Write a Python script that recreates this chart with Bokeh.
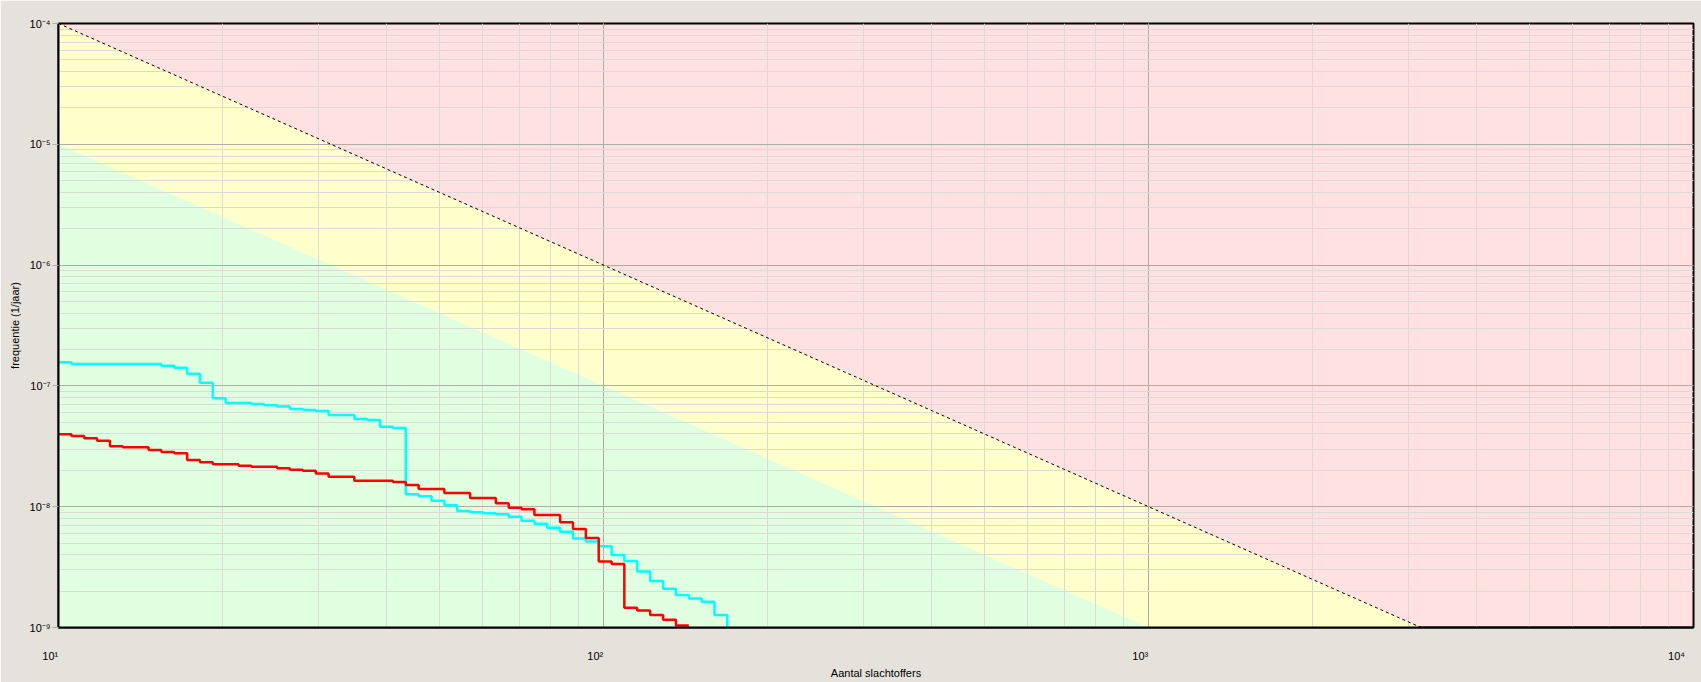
import math
from bokeh.plotting import figure
from bokeh.models import Range1d, CustomJSTickFormatter
from bokeh.embed import file_html
from bokeh.resources import INLINE

# ---------------- data ----------------
# cyan FN-curve: step start (number of victims) and frequency level (1/year)
cyan_n = [10.00, 10.56, 15.44, 16.31, 17.22, 18.18, 19.19, 20.26, 22.59, 23.86,
          25.19, 26.59, 28.08, 29.65, 31.30, 34.90, 36.84, 38.90, 41.08, 43.37,
          45.79, 48.35, 51.05, 53.90, 56.91, 60.09, 63.45, 66.99, 70.73, 74.68,
          78.85, 83.25, 87.90, 92.81, 98.0, 103.5, 109.2, 115.3, 121.8, 128.6,
          135.8, 143.4, 151.4, 159.8, 168.7]
cyan_f = [1.57e-7, 1.52e-7, 1.47e-7, 1.41e-7, 1.26e-7, 1.06e-7, 7.9e-8, 7.23e-8, 7.09e-8, 6.92e-8,
          6.75e-8, 6.45e-8, 6.33e-8, 6.21e-8, 5.75e-8, 5.33e-8, 5.23e-8, 4.58e-8, 4.49e-8, 1.27e-8,
          1.22e-8, 1.12e-8, 1.03e-8, 9.23e-9, 9.0e-9, 8.83e-9, 8.67e-9, 8.24e-9, 7.64e-9, 7.21e-9,
          6.68e-9, 6.19e-9, 5.45e-9, 5.15e-9, 4.71e-9, 3.99e-9, 3.56e-9, 2.91e-9, 2.43e-9, 2.09e-9,
          1.86e-9, 1.74e-9, 1.63e-9, 1.27e-9, 1.0e-9]

# red FN-curve
red_n = [10.00, 10.56, 11.15, 11.77, 12.43, 13.12, 14.63, 15.44, 16.31, 17.22,
         18.18, 19.19, 21.40, 22.59, 25.19, 26.59, 28.08, 29.65, 31.30, 34.90,
         41.08, 43.37, 45.79, 51.05, 56.91, 63.45, 66.99, 70.73, 74.68, 83.25,
         87.90, 92.81, 98.0, 103.5, 109.2, 115.3, 121.8, 128.6, 135.8, 143.4]
red_f = [3.98e-8, 3.85e-8, 3.69e-8, 3.51e-8, 3.17e-8, 3.11e-8, 2.95e-8, 2.84e-8, 2.77e-8, 2.44e-8,
         2.33e-8, 2.25e-8, 2.18e-8, 2.14e-8, 2.08e-8, 2.02e-8, 1.98e-8, 1.88e-8, 1.77e-8, 1.64e-8,
         1.60e-8, 1.51e-8, 1.40e-8, 1.30e-8, 1.18e-8, 1.07e-8, 9.78e-9, 9.53e-9, 8.55e-9, 7.44e-9,
         6.55e-9, 5.5e-9, 3.52e-9, 3.36e-9, 1.46e-9, 1.38e-9, 1.27e-9, 1.16e-9, 1.04e-9, 1.04e-9]

# norm lines (f = C / N^2)
upper_n = [10, 3162.28]
upper_f = [1e-4, 1e-9]
lower_n = [10, 1000]
lower_f = [1e-5, 1e-9]

x_limits = [10, 10000]
y_limits = [1e-9, 1e-4]
x_title = "Aantal slachtoffers"
y_title = "frequentie (1/jaar)"

# ---------------- style ----------------
PAGE_BG = "#E5E2DC"
RED_BG = "#FFE1E1"
YELLOW_BG = "#FFFFCC"
GREEN_BG = "#E0FFE0"
MAJOR_GRID = "#B0ADA5"
MINOR_GRID = "#DCDAD6"
FONT = "Liberation Sans"

x0, x1 = x_limits
y0, y1 = y_limits

p = figure(width=1701, height=682,
           x_axis_type="log", y_axis_type="log",
           x_range=Range1d(x0, x1), y_range=Range1d(y0, y1),
           output_backend="svg", toolbar_location=None,
           min_border_left=58, min_border_right=8,
           min_border_top=23, min_border_bottom=55)

p.background_fill_color = RED_BG
p.border_fill_color = PAGE_BG
p.outline_line_color = "black"
p.outline_line_width = 2

# grids
for g in (p.xgrid, p.ygrid):
    g.grid_line_color = MAJOR_GRID
    g.grid_line_width = 1
    g.minor_grid_line_color = MINOR_GRID
    g.minor_grid_line_width = 1

SUP_JS = """
const sup = {"0":"\u2070","1":"\u00b9","2":"\u00b2","3":"\u00b3","4":"\u2074",
             "5":"\u2075","6":"\u2076","7":"\u2077","8":"\u2078","9":"\u2079","-":"\u207b"};
const e = Math.round(Math.log10(tick));
const s = String(e).split("").map(c => sup[c]).join("");
return "10" + s + PAD;
"""
p.xaxis.formatter = CustomJSTickFormatter(code=SUP_JS.replace("PAD", '"\u2003\u2002"'))
p.yaxis.formatter = CustomJSTickFormatter(code=SUP_JS.replace("PAD", '""'))

for ax in (p.xaxis, p.yaxis):
    ax.axis_line_color = "black"
    ax.axis_line_width = 2
    ax.minor_tick_out = 0
    ax.minor_tick_in = 0
    ax.major_tick_in = 0
    ax.major_label_text_font = FONT
    ax.major_label_text_font_size = "11px"
    ax.major_label_text_color = "black"
    ax.axis_label_text_font = FONT
    ax.axis_label_text_font_size = "11px"
    ax.axis_label_text_font_style = "normal"
    ax.axis_label_text_color = "black"

p.xaxis.major_tick_out = 0
p.xaxis.major_label_standoff = 22
p.xaxis.axis_label = x_title
p.xaxis.axis_label_standoff = 2

p.yaxis.major_tick_out = 6
p.yaxis.major_tick_line_color = MAJOR_GRID
p.yaxis.major_label_standoff = 2
p.yaxis.axis_label = y_title
p.yaxis.axis_label_standoff = 6

# coloured zones (below the grid)
p.varea(x=upper_n, y1=[y0, y0], y2=upper_f, fill_color=YELLOW_BG, level="image")
p.varea(x=lower_n, y1=[y0, y0], y2=lower_f, fill_color=GREEN_BG, level="image")

# norm line
p.line(upper_n, upper_f, line_color="black", line_width=1, line_dash="3 3")

# FN curves
p.step(cyan_n, cyan_f, mode="after", line_color="#00FFFF", line_width=2.5)
p.step(red_n, red_f, mode="after", line_color="#FF0000", line_width=2.5)

open("out.html", "w").write(file_html(p, INLINE))
